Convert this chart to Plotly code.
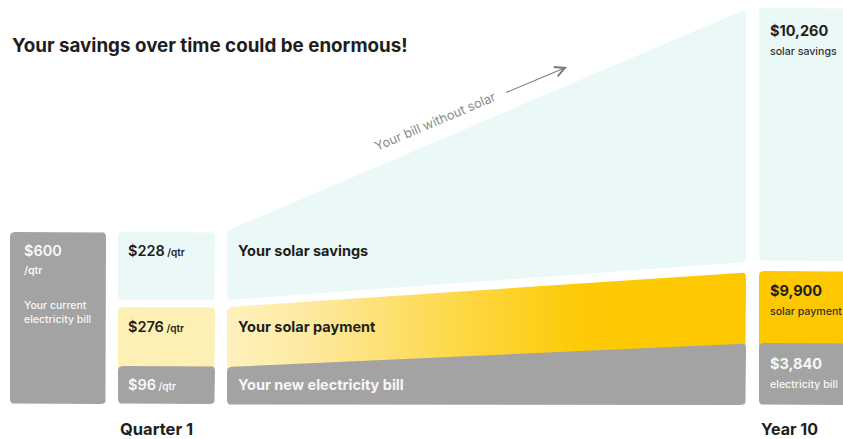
import plotly.graph_objects as go

# ---------------- data ----------------
title_text = "Your savings over time could be enormous!"
current_bill = 600
categories = ["Your solar savings", "Your solar payment", "Your new electricity bill"]
quarter1_values = [228, 276, 96]
year10_values = [10260, 9900, 3840]
year10_labels = ["solar savings", "solar payment", "electricity bill"]
column_labels = ["Quarter 1", "Year 10"]
trend_label = "Your bill without solar"

# ---------------- style ----------------
GRAY = "#a3a3a3"
CYAN = "#ebf8f8"
PALE = "#fdf0b5"
GOLD = "#fdc800"
DARK = "#1e1e1e"
WHITE = "#f7f7f7"
FONT = "Inter"
W, H = 843, 439

# layout geometry (pixel space of the canvas)
col_cur = (10, 106)
col_q1 = (118, 215)
col_mid = (227, 746)
col_y10 = (759, 870)


def rounded_poly(pts, r=5, n=6):
    """sample a polygon with rounded corners"""
    out = []
    k = len(pts)
    for i in range(k):
        px, py = pts[i]
        ax, ay = pts[i - 1]
        bx, by = pts[(i + 1) % k]
        def unit(dx, dy):
            d = (dx * dx + dy * dy) ** 0.5
            return dx / d, dy / d
        u1 = unit(ax - px, ay - py)
        u2 = unit(bx - px, by - py)
        s = (px + u1[0] * r, py + u1[1] * r)
        e = (px + u2[0] * r, py + u2[1] * r)
        for j in range(n + 1):
            t = j / n
            x = (1 - t) ** 2 * s[0] + 2 * (1 - t) * t * px + t * t * e[0]
            y = (1 - t) ** 2 * s[1] + 2 * (1 - t) * t * py + t * t * e[1]
            out.append((x, y))
    out.append(out[0])
    return [p[0] for p in out], [p[1] for p in out]


def quad(x0, x1, y0l, y1l, y0r, y1r):
    return [(x0, y0l), (x1, y0r), (x1, y1r), (x0, y1l)]


fig = go.Figure()


def add_poly(pts, color=None, gradient=None, r=5):
    xs, ys = rounded_poly(pts, r=r)
    kw = dict(x=xs, y=ys, mode="lines", fill="toself", line=dict(width=0),
              hoverinfo="skip", showlegend=False)
    if gradient:
        kw["fillgradient"] = dict(type="horizontal", colorscale=gradient)
    else:
        kw["fillcolor"] = color
    fig.add_trace(go.Scatter(**kw))


# current bill column
add_poly(quad(col_cur[0], col_cur[1], 232, 404, 232, 404), GRAY)
# quarter 1 column
add_poly(quad(col_q1[0], col_q1[1], 232, 300, 232, 300), CYAN)
add_poly(quad(col_q1[0], col_q1[1], 307, 372, 307, 372), PALE)
add_poly(quad(col_q1[0], col_q1[1], 366, 404, 366, 404), GRAY)
# middle transition
add_poly(quad(col_mid[0], col_mid[1], 231, 300, 9, 262), CYAN, r=3)
add_poly(quad(col_mid[0], col_mid[1], 307, 372, 272, 350), None,
         gradient=[[0, "#fef1bd"], [0.15, "#fdeaa2"], [0.45, "#fdd846"],
                   [0.68, "#fdca05"], [1, GOLD]])
add_poly(quad(col_mid[0], col_mid[1], 367, 405, 343, 405), GRAY)
# year 10 column
add_poly(quad(col_y10[0], col_y10[1], 8, 261, 8, 261), CYAN)
add_poly(quad(col_y10[0], col_y10[1], 271, 350, 271, 350), GOLD)
add_poly(quad(col_y10[0], col_y10[1], 343, 405, 343, 405), GRAY)

ann = []


def txt(x, y, text, size, color, weight=600, **kw):
    d = dict(x=x, y=y, xref="x", yref="y", text=text, showarrow=False,
             xanchor="left", yanchor="middle",
             font=dict(family=FONT, size=size, color=color, weight=weight))
    d.update(kw)
    ann.append(d)


def qtr(v):
    return f"${v:,}<span style='font-size:10px'> /qtr</span>"


# title
txt(10, 45, title_text, 18.8, DARK, 700)
# current bill
txt(22, 250, f"${current_bill:,}", 14.5, WHITE, 600)
txt(22, 270, "/qtr", 10.5, WHITE, 600)
txt(22, 312, "Your current<br>electricity bill", 10.5, WHITE, 500, align="left")
# quarter 1 values
q1_y = [250, 326, 384]
q1_c = [DARK, DARK, WHITE]
for v, y, c in zip(quarter1_values, q1_y, q1_c):
    txt(126, y, qtr(v), 14.5, c, 600)
# middle labels
for cat, y, c in zip(categories, q1_y, q1_c):
    txt(236, y, cat, 14.5, c, 700)
# year 10 values
y10_y = [(30, 51), (290, 311), (363, 384)]
y10_c = [DARK, DARK, WHITE]
for v, lab, (ya, yb), c in zip(year10_values, year10_labels, y10_y, y10_c):
    txt(768, ya, f"${v:,}", 14.5, c, 700)
    txt(768, yb, lab, 10.6, "#333333" if c == DARK else WHITE, 500)
# column labels
txt(118, 429, column_labels[0], 16.5, DARK, 700)
txt(759, 429, column_labels[1], 16, DARK, 700)
# trend label + arrow
ann.append(dict(x=435, y=121, xref="x", yref="y", text=trend_label, showarrow=False,
                textangle=-23, font=dict(family=FONT, size=12.8, color="#8a8a8a")))
ann.append(dict(x=567, y=67, ax=505, ay=93, xref="x", yref="y", axref="x", ayref="y",
                text="", showarrow=True, arrowhead=5, arrowsize=1.8, arrowwidth=1.1,
                arrowcolor="#7a7a7a", standoff=0))

fig.update_layout(
    width=W, height=H, margin=dict(l=0, r=0, t=0, b=0),
    paper_bgcolor="white", plot_bgcolor="white",
    xaxis=dict(range=[0, W], visible=False, fixedrange=True),
    yaxis=dict(range=[H, 0], visible=False, fixedrange=True),
    annotations=ann,
)
fig.write_html(
    "out.html",
    config={"displayModeBar": False, "staticPlot": True},
    post_script="document.body.style.margin='0';document.body.style.overflow='hidden';",
)
